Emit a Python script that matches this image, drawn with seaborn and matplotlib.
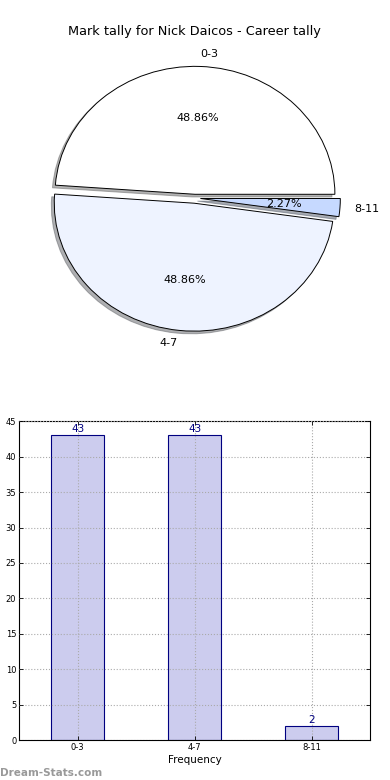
import matplotlib
matplotlib.use("Agg")
import matplotlib.pyplot as plt
import seaborn as sns

# Data
categories = ["0-3", "4-7", "8-11"]
counts = [43, 43, 2]
pie_colors = ["#ffffff", "#eef3ff", "#c6d9ff"]
explode = [0.03, 0.04, 0.04]

sns.set_theme(style="white")
plt.rcParams["font.family"] = ["DejaVu Sans"]
plt.rcParams["text.color"] = "black"
plt.rcParams["xtick.color"] = "black"
plt.rcParams["ytick.color"] = "black"
plt.rcParams["axes.labelcolor"] = "black"

fig = plt.figure(figsize=(3.9, 7.8), dpi=100)

# Pie chart (top) - stretched, not circular, like the source
ax_pie = fig.add_axes([0.051, 0.541, 0.897, 0.41])
ax_pie.pie(counts, labels=categories, colors=pie_colors, explode=explode,
           autopct="%.2f%%", shadow={"ox": -0.015, "oy": -0.015, "shade": 0.6},
           startangle=0,
           wedgeprops=dict(edgecolor="black", linewidth=0.7),
           textprops=dict(fontsize=8))
ax_pie.set_aspect("auto")
ax_pie.set_xlim(-1.25, 1.25)
ax_pie.set_ylim(-1.25, 1.25)
ax_pie.set_title("Mark tally for Nick Daicos - Career tally", fontsize=9.3, pad=-3)

# Bar chart (bottom)
ax_bar = fig.add_axes([0.049, 0.051, 0.9, 0.409])
sns.barplot(x=categories, y=counts, color="#ccccee", saturation=1,
            width=0.45, edgecolor="#000080", linewidth=0.8, ax=ax_bar)
ax_bar.bar_label(ax_bar.containers[0], color="#000080", fontsize=7.5, padding=1)
ax_bar.set_ylim(0, 45)
ax_bar.set_xlim(-0.5, 2.5)
ax_bar.set_yticks(range(0, 46, 5))
ax_bar.set_xlabel("Frequency", fontsize=7.5, labelpad=2)
ax_bar.set_ylabel("")
ax_bar.tick_params(labelsize=6, direction="in", length=3, width=0.6,
                   top=True, right=True, bottom=True, left=True, pad=2)
ax_bar.grid(True, linestyle=":", color="#aaaaaa", linewidth=0.8)
ax_bar.set_axisbelow(False)
for sp in ax_bar.spines.values():
    sp.set_color("black")
    sp.set_linewidth(0.8)

fig.text(0.0, 0.003, "Dream-Stats.com", fontsize=7.5, color="#999999",
         fontweight="bold", ha="left", va="bottom")

fig.savefig("out.png", dpi=100)
